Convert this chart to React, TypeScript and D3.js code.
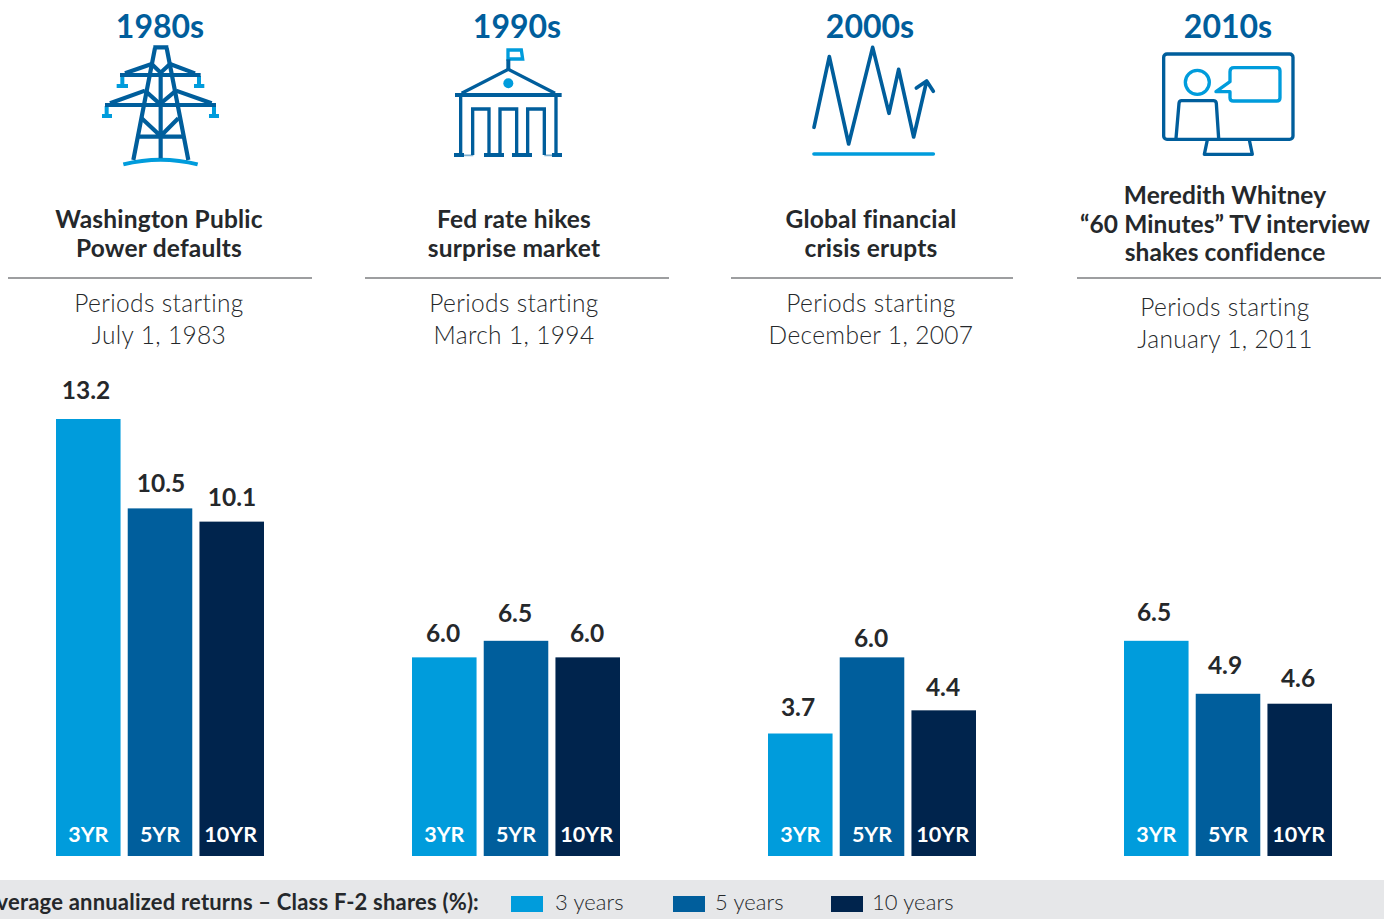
import React from "react";
import * as d3 from "d3";

const decades = ["1980s", "1990s", "2000s", "2010s"];
const spans = ["3YR", "5YR", "10YR"];
const legendLabels = ["3 years", "5 years", "10 years"];
const values1980s = [13.2, 10.5, 10.1];
const values1990s = [6.0, 6.5, 6.0];
const values2000s = [3.7, 6.0, 4.4];
const values2010s = [6.5, 4.9, 4.6];
const allValues = [values1980s, values1990s, values2000s, values2010s];
const titles = [
  ["Washington Public", "Power defaults"],
  ["Fed rate hikes", "surprise market"],
  ["Global financial", "crisis erupts"],
  ["Meredith Whitney", "\u201c60 Minutes\u201d TV interview", "shakes confidence"],
];
const periods = [
  ["Periods starting", "July 1, 1983"],
  ["Periods starting", "March 1, 1994"],
  ["Periods starting", "December 1, 2007"],
  ["Periods starting", "January 1, 2011"],
];

const LIGHT = "#009cdc";
const MID = "#005e9c";
const DARK = "#00244d";
const INK = "#25282b";
const FONT = "Lato, 'Noto Sans', sans-serif";

const y = d3.scaleLinear().domain([0, 13.2]).range([856, 419]);
const groupX = [56, 412, 768, 1124];
const x = d3.scaleBand().domain(spans).range([0, 208]).paddingInner(0.1);
const barFill = d3.scaleOrdinal<string>().domain(spans).range([LIGHT, MID, DARK]);
const decadeCx = [160, 517, 870, 1228];
const titleCx = [159, 514, 871, 1225];
const periodCx = [159, 514, 871, 1225];
const rules = [[8, 312], [365, 669], [731, 1013], [1077, 1381]];
const labelCx = [[86, 161, 232], [443, 515, 587], [798, 871, 943], [1154, 1225, 1298]];
const labelBase = [[399, 492, 506], [642, 622, 642], [716, 647, 696], [621, 674, 687]];

function Tower() {
  return (
    <g transform="translate(90,40) scale(0.3333)" fill="none" strokeLinejoin="miter">
      <g stroke={LIGHT} strokeWidth={12}>
        <path d="M97 108V135M80 138H114M327 108V135M312 138H343M50 198V226M36 228H66M372 198V226M357 228H387" />
        <path d="M100 373Q212 345 323 373" />
      </g>
      <g stroke={MID} strokeWidth={12.5}>
        <path d="M190 22H235M195 24L130 360M230 24L295 360" />
        <path d="M90 105H332M105 100L185 72M240 72L315 100M185 72L212 98L240 72" />
        <path d="M45 195H378M60 190L165 152M258 152L365 190M165 152L210 192L258 152" />
        <path d="M212 98V355M155 235L212 288L265 235M140 290H285" />
      </g>
    </g>
  );
}
function Bank() {
  return (
    <g transform="translate(440,40) scale(0.3333)" fill="none">
      <path d="M204 30H244L248 57H204Z" stroke={LIGHT} strokeWidth={10} />
      <circle cx={205} cy={130} r={15} fill={LIGHT} />
      <path d="M72 346H100M147 346H180M230 346H263M313 346H340" stroke="#7fb0d0" strokeWidth={5} />
      <g stroke={MID}>
        <path d="M205 58V88" strokeWidth={12} />
        <path d="M65 160L205 88L345 160" strokeWidth={10} />
        <path d="M45 165H365" strokeWidth={12} />
        <path d="M62 165V345M348 165V345M98 345V207H147V345M180 345V207H230V345M263 345V207H313V345" strokeWidth={10} />
        <path d="M42 345H72M132 345H192M216 345H276M336 345H366" strokeWidth={12} />
      </g>
    </g>
  );
}
function Wave() {
  return (
    <g transform="translate(800,40) scale(0.3333)" fill="none" strokeLinecap="round" strokeLinejoin="round" strokeWidth={11}>
      <path d="M42 262L88 50L146 312L218 22L267 220L296 88L341 291L380 123M349 144L380 123L400 154" stroke={MID} />
      <path d="M42 342H400" stroke={LIGHT} />
    </g>
  );
}
function Monitor() {
  return (
    <g transform="translate(1150,40) scale(0.3333)" fill="none" strokeWidth={10} strokeLinejoin="round">
      <rect x={41} y={42} width={388} height={256} rx={10} stroke={MID} />
      <path d="M172 300L163 343H307L298 300" stroke={MID} />
      <path d="M78 295L87 190Q88 182 95 182H190Q198 182 199 190L206 295" stroke={MID} />
      <circle cx={142} cy={127} r={36} stroke={LIGHT} />
      <path d="M240 125V95Q240 83 252 83H380Q390 83 390 93V173Q390 183 380 183H250Q240 183 240 173V155H198Z" stroke={LIGHT} />
    </g>
  );
}
const icons = [Tower, Bank, Wave, Monitor];

export default function App() {
  return (
    <svg width={1384} height={919} viewBox="0 0 1384 919" style={{ position: "absolute", left: 0, top: 0, background: "#fff", fontVariantLigatures: "none" }} fontFamily={FONT}>
      {decades.map((d, i) => {
        const Icon = icons[i];
        const tb = i === 3 ? 204 : 228;
        const pb = i === 3 ? 316 : 312;
        return (
          <g key={d}>
            <text x={decadeCx[i]} y={38} textAnchor="middle" fontSize={32} fontWeight={700} fill={MID}>{d}</text>
            <Icon />
            {titles[i].map((t, k) => (
              <text key={t} x={titleCx[i]} y={tb + k * (i === 3 ? 28.5 : 29)} textAnchor="middle" fontSize={24.5} fontWeight={700} letterSpacing={i === 3 ? 0.1 : 0.2} fill={INK}>{t}</text>
            ))}
            <line x1={rules[i][0]} x2={rules[i][1]} y1={278} y2={278} stroke="#3c3f42" strokeWidth={1.2} />
            {periods[i].map((t, k) => (
              <text key={t} x={periodCx[i]} y={pb + k * 32} textAnchor="middle" fontSize={24.5} fontWeight={300} letterSpacing={0.35} fill={INK}>{t}</text>
            ))}
            <g transform={`translate(${groupX[i]},0)`}>
              {spans.map((s, j) => {
                const v = allValues[i][j];
                const bx = x(s)!;
                return (
                  <g key={s}>
                    <rect x={bx} y={y(v)} width={x.bandwidth()} height={856 - y(v)} fill={barFill(s)} />
                    <text x={bx + x.bandwidth() / 2 - (j === 2 ? 1 : 0)} y={842} textAnchor="middle" fontSize={21.5} fontWeight={700} fill="#fff">{s}</text>
                  </g>
                );
              })}
            </g>
            {spans.map((s, j) => (
              <text key={s} x={labelCx[i][j]} y={labelBase[i][j]} textAnchor="middle" fontSize={24.5} fontWeight={700} fill={INK}>{allValues[i][j].toFixed(1)}</text>
            ))}
          </g>
        );
      })}
      <rect x={0} y={880} width={1384} height={39} fill="#e6e7e9" />
      <text x={479} y={910} textAnchor="end" fontSize={22} fontWeight={700} letterSpacing={0.2} fill={INK}>Average annualized returns – Class F-2 shares (%):</text>
      {legendLabels.map((l, i) => {
        const sx = [511, 673, 831][i];
        return (
          <g key={l}>
            <rect x={sx} y={896} width={32} height={16} fill={barFill(spans[i])} />
            <text x={[555, 715, 872][i]} y={910} fontSize={22} fontWeight={300} letterSpacing={0.1} fill={INK}>{l}</text>
          </g>
        );
      })}
    </svg>
  );
}
